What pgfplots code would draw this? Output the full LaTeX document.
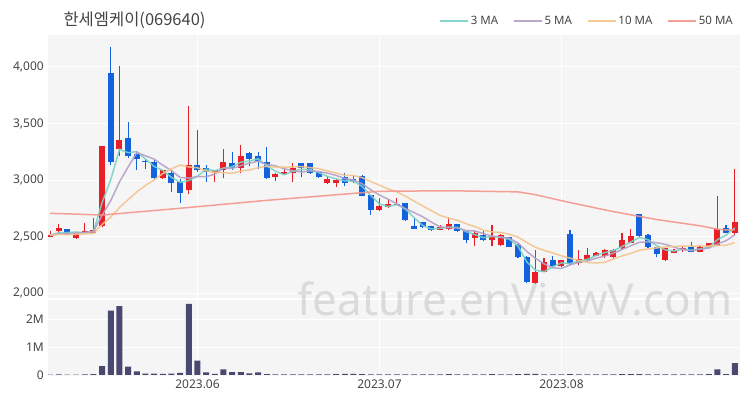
\documentclass[border=0pt]{standalone}
\usepackage{pgfplots}
\pgfplotsset{compat=1.18}
\usepackage{pgfplotstable}
\usepackage{fontspec}
\setmainfont{Noto Sans}
\newfontfamily\kr{Noto Sans CJK KR}
\definecolor{cred}{RGB}{234,30,38}
\definecolor{cblue}{RGB}{18,98,222}
\definecolor{cvol}{RGB}{72,72,112}
\definecolor{bgc}{RGB}{245,245,245}
\definecolor{ma3}{RGB}{120,210,198}
\definecolor{ma5}{RGB}{178,160,200}
\definecolor{ma10}{RGB}{244,196,140}
\definecolor{ma50}{RGB}{244,150,140}
\definecolor{tickc}{RGB}{68,68,68}
\definecolor{wmc}{RGB}{200,200,200}

\pgfplotstableread{
i o h l c v
0 2500 2550 2495 2515 0.01
1 2550 2610 2535 2575 0.02
2 2565 2570 2510 2515 0.01
3 2485 2535 2480 2530 0.01
4 2530 2620 2525 2550 0.02
5 2530 2660 2525 2555 0.03
6 2590 3300 2580 3300 0.32
7 3950 4175 3130 3160 2.30
8 3270 4010 3210 3355 2.46
9 3370 3510 3195 3210 0.30
10 3230 3260 3090 3190 0.13
11 3170 3190 3100 3155 0.05
12 3160 3180 3010 3015 0.05
13 3015 3090 3010 3085 0.04
14 3060 3090 2890 2970 0.05
15 2985 3005 2800 2885 0.08
16 2910 3655 2875 3130 2.54
17 3135 3440 3075 3085 0.51
18 3105 3135 2985 3075 0.09
19 3060 3090 2985 3085 0.04
20 3085 3275 3015 3155 0.20
21 3150 3250 3090 3110 0.10
22 3110 3310 3065 3210 0.10
23 3240 3245 3120 3185 0.06
24 3210 3250 3100 3170 0.09
25 3155 3295 3010 3015 0.03
26 3030 3060 2995 3050 0.02
27 3055 3105 3050 3075 0.02
28 3065 3150 2985 3105 0.02
29 3150 3150 3025 3105 0.02
30 3150 3150 3055 3065 0.02
31 3075 3075 3020 3025 0.02
32 2975 3035 2965 3005 0.02
33 2975 3015 2935 3000 0.03
34 3025 3065 2945 2975 0.04
35 3005 3035 2970 2995 0.04
36 3035 3040 2855 2860 0.03
37 2865 2870 2690 2735 0.02
38 2735 2840 2730 2770 0.02
39 2760 2830 2755 2790 0.02
40 2780 2840 2778 2790 0.02
41 2795 2800 2640 2645 0.02
42 2590 2660 2563 2565 0.02
43 2630 2630 2575 2580 0.02
44 2590 2590 2550 2555 0.02
45 2560 2600 2555 2580 0.02
46 2565 2670 2555 2615 0.03
47 2610 2615 2540 2545 0.02
48 2545 2545 2440 2470 0.02
49 2485 2545 2415 2535 0.02
50 2515 2545 2460 2465 0.02
51 2465 2600 2415 2500 0.03
52 2425 2520 2420 2515 0.02
53 2495 2500 2405 2410 0.02
54 2425 2430 2310 2315 0.03
55 2320 2325 2085 2100 0.04
56 2085 2380 2080 2190 0.04
57 2190 2310 2185 2275 0.02
58 2290 2330 2230 2235 0.02
59 2235 2295 2230 2290 0.02
60 2520 2555 2250 2255 0.03
61 2265 2380 2245 2305 0.02
62 2290 2395 2285 2335 0.02
63 2330 2365 2325 2355 0.02
64 2325 2390 2310 2385 0.02
65 2320 2390 2300 2385 0.02
66 2395 2535 2390 2465 0.03
67 2445 2565 2440 2505 0.03
68 2700 2700 2500 2505 0.03
69 2515 2520 2400 2405 0.02
70 2405 2410 2315 2345 0.02
71 2290 2400 2285 2395 0.02
72 2355 2390 2350 2375 0.02
73 2380 2415 2365 2395 0.02
74 2405 2455 2360 2365 0.02
75 2365 2415 2360 2410 0.02
76 2405 2445 2400 2440 0.03
77 2425 2860 2420 2565 0.20
78 2575 2600 2530 2535 0.03
79 2535 3095 2505 2630 0.42
}\ohlc

\pgfplotstableread{
i m3 m5 m10
0 2511.7 2511 2510.5
1 2533.3 2524 2517
2 2535 2525 2517.5
3 2540 2529 2519.5
4 2531.7 2537 2523.5
5 2545 2545 2528
6 2801.7 2690 2607
7 3005 2819 2672
8 3271.7 2984 2756.5
9 3241.7 3116 2826.5
10 3251.7 3243 2894
11 3185 3214 2952
12 3120 3185 3002
13 3085 3131 3057.5
14 3023.3 3083 3099.5
15 2980 3022 3132.5
16 2995 3017 3115.5
17 3033.3 3031 3108
18 3096.7 3029 3080
19 3081.7 3052 3067.5
20 3105 3106 3064
21 3116.7 3102 3059.5
22 3158.3 3127 3079
23 3168.3 3149 3089
24 3188.3 3166 3109
25 3123.3 3138 3122
26 3078.3 3126 3114
27 3046.7 3099 3113
28 3076.7 3083 3116
29 3095 3070 3118
30 3091.7 3080 3109
31 3065 3075 3100.5
32 3031.7 3061 3080
33 3010 3040 3061.5
34 2993.3 3014 3042
35 2990 3000 3040
36 2943.3 2967 3021
37 2863.3 2913 2987
38 2788.3 2867 2953.5
39 2765 2830 2922
40 2783.3 2789 2894.5
41 2741.7 2746 2856.5
42 2666.7 2712 2812.5
43 2596.7 2674 2770.5
44 2566.7 2627 2728.5
45 2571.7 2585 2687
46 2583.3 2579 2662.5
47 2580 2575 2643.5
48 2543.3 2553 2613.5
49 2516.7 2549 2588
50 2490 2526 2555.5
51 2500 2503 2541
52 2493.3 2497 2536
53 2475 2485 2519
54 2413.3 2441 2495
55 2275 2368 2447
56 2201.7 2306 2404.5
57 2188.3 2258 2377.5
58 2233.3 2223 2354
59 2266.7 2218 2329.5
60 2260 2249 2308.5
61 2283.3 2272 2289
62 2298.3 2284 2271
63 2331.7 2308 2265.5
64 2358.3 2327 2272.5
65 2375 2353 2301
66 2411.7 2385 2328.5
67 2451.7 2419 2351.5
68 2491.7 2449 2378.5
69 2471.7 2453 2390
70 2418.3 2445 2399
71 2381.7 2431 2408
72 2371.7 2405 2412
73 2388.3 2383 2416
74 2378.3 2375 2414
75 2390 2388 2416.5
76 2405 2397 2414
77 2471.7 2435 2420
78 2513.3 2463 2423
79 2576.7 2516 2445.5
}\mas

\pgfplotstableread{
i m50
0 2705
3 2698
6 2690
15 2750
25 2820
38 2900
46 2905
54 2895
56 2870
60 2800
65 2720
70 2650
75 2595
77 2565
78 2558
79 2560
}\maf

\pgfplotsset{
  chartbase/.style={
    scale only axis, width=692pt,
    xmin=-0.25, xmax=79.6,
    axis background/.style={fill=bgc},
    axis line style={draw=none},
    major tick length=0pt,
    xmajorgrids, ymajorgrids,
    major grid style={white, line width=1pt},
    tick label style={font=\fontsize{12}{14}\selectfont, text=tickc, inner sep=0pt},
    yticklabel style={anchor=east, xshift=-4pt},
    xtick={17,38,59},
  },
  candle/.style={only marks, mark=*, mark size=0pt,
    mark options={draw=none, fill=none}, forget plot,
    /pgfplots/error bars/y dir=plus,
    /pgfplots/error bars/y explicit,
    /pgfplots/error bars/error mark=none,
    /pgfplots/error bars/error bar style={#1}},
}

\begin{document}
\begin{tikzpicture}
\begin{axis}[chartbase, name=price,
  at={(48pt,102pt)}, anchor=south west, height=263pt,
  ymin=1956, ymax=4283,
  ytick={2000,2500,3000,3500,4000},
  yticklabels={{2,000},{2,500},{3,000},{3,500},{4,000}},
  xticklabels={},
  legend style={at={(1,1)}, anchor=south east, xshift=-5pt, yshift=7pt,
    draw=none, fill=none, inner sep=0pt,
    font=\fontsize{11.5}{13}\selectfont, text=tickc,
    legend columns=-1,
    /tikz/every even column/.append style={column sep=13pt}},
  legend image code/.code={\draw[#1] (0pt,0pt) -- (28pt,0pt);},
]
% wicks
\addplot[candle={line width=1.3pt, draw=cred},
  x filter/.expression={\thisrow{c}>=\thisrow{o} ? x : nan}]
  table[x=i, y=l, y error expr=\thisrow{h}-\thisrow{l}] {\ohlc};
\addplot[candle={line width=1.3pt, draw=cblue},
  x filter/.expression={\thisrow{c}<\thisrow{o} ? x : nan}]
  table[x=i, y=l, y error expr=\thisrow{h}-\thisrow{l}] {\ohlc};
% bodies
\addplot[candle={line width=6pt, draw=cred},
  x filter/.expression={\thisrow{c}>=\thisrow{o} ? x : nan}]
  table[x=i, y=o, y error expr=\thisrow{c}-\thisrow{o}] {\ohlc};
\addplot[candle={line width=6pt, draw=cblue},
  x filter/.expression={\thisrow{c}<\thisrow{o} ? x : nan}]
  table[x=i, y=c, y error expr=\thisrow{o}-\thisrow{c}] {\ohlc};
% moving averages
\addplot[ma3, line width=1.5pt, opacity=0.9] table[x=i, y=m3] {\mas};
\addlegendentry{3 MA}
\addplot[ma5, line width=1.5pt, opacity=0.9] table[x=i, y=m5] {\mas};
\addlegendentry{5 MA}
\addplot[ma10, line width=1.5pt, opacity=0.9] table[x=i, y=m10] {\mas};
\addlegendentry{10 MA}
\addplot[ma50, line width=1.5pt, opacity=0.9] table[x=i, y=m50] {\maf};
\addlegendentry{50 MA}
\end{axis}

\begin{axis}[chartbase, name=vol,
  at={(price.south west)}, anchor=north west, yshift=-2pt, height=76pt,
  ymin=-0.036, ymax=2.68,
  ytick={0,1,2}, yticklabels={0,1M,2M},
  xticklabels={2023.06,2023.07,2023.08},
  xticklabel style={yshift=-4pt},
]
\addplot[ybar, bar width=6pt, fill=cvol, draw=none] table[x=i, y=v] {\ohlc};
\end{axis}

\node[anchor=base east, font=\fontsize{44}{50}\selectfont, text=wmc, opacity=0.6] at (736pt,85pt) {feature.enViewV.com};
\node[anchor=west, font=\kr\fontsize{16.5}{19}\selectfont, text=tickc] at (60pt,380pt) {한세엠케이(069640)};
\path (0pt,0pt) rectangle (750pt,400pt);
\end{tikzpicture}
\end{document}
